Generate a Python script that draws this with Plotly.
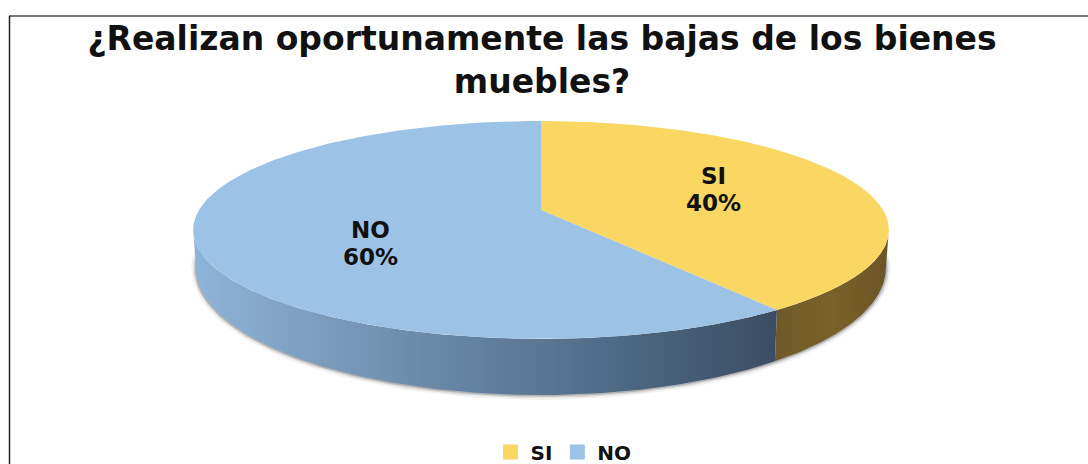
import numpy as np
import plotly.graph_objects as go

# Survey answers
categories = ["SI", "NO"]
values = [40, 60]
title_lines = ["¿Realizan oportunamente las bajas de los bienes", "muebles?"]

# Pie styling
TOP_COLORS = {"SI": "#FAD663", "NO": "#9CC2E5"}
WALL_SCALES = {
    "SI": [[0, "#6E5A2A"], [0.5, "#7A6228"], [1, "#6A5424"]],
    "NO": [[0, "#8FB4D8"], [0.35, "#6F8FAE"], [0.7, "#506C88"], [1, "#3A4D62"]],
}
LABEL_POS = {"SI": (713, 176), "NO": (370, 230)}
LABEL_LINE_GAP = 27
FONT = "DejaVu Sans"

# Tilted-disc projection: pivot, horizontal and vertical scale, perspective strength
K = 0.183
TOP_RIM = (541, 210, 342, 105.3)
BOTTOM_RIM = (541, 244.8, 339, 122.7)


def project(theta_deg, rim, radius=1.0):
    """Map clockwise-from-north angles on the disc to page coordinates."""
    cx, cy, a, b = rim
    t = np.radians(theta_deg)
    u, v = radius * np.sin(t), -radius * np.cos(t)
    w = 1 - K * v
    return cx + a * u / w, cy + b * v / w


total = sum(values)
spans = []
start = 0.0
for value in values:
    spans.append((start, start + 360 * value / total))
    start += 360 * value / total

# The disc edge is only visible between its two horizontal extremes
edge_right = np.degrees(np.arccos(-K))
edge_left = 360 - edge_right

fig = go.Figure()

# Soft contact shadow below the disc wall
low_t = np.linspace(edge_right - 8, edge_left + 8, 240)
low_x, low_y = project(low_t, BOTTOM_RIM)
for width, alpha in [(10, 0.06), (6, 0.12), (3, 0.22)]:
    fig.add_trace(go.Scatter(
        x=low_x, y=low_y, mode="lines", hoverinfo="skip", showlegend=False,
        line=dict(color=f"rgba(40,40,40,{alpha})", width=width),
    ))

# Side walls, each limited to the visible arc of its slice
for cat, (a0, a1) in zip(categories, spans):
    lo = max(a0, edge_right) if a0 < 180 else a0
    hi = min(a1, edge_left)
    t = np.linspace(lo, hi, 160)
    tx, ty = project(t, TOP_RIM)
    bx, by = project(t[::-1], BOTTOM_RIM)
    xs = np.concatenate([tx, bx, tx[:1]])
    ys = np.concatenate([ty, by, ty[:1]])
    fig.add_trace(go.Scatter(
        x=xs, y=ys, mode="lines", line=dict(width=0), hoverinfo="skip", showlegend=False,
        fill="toself",
        fillgradient=dict(type="horizontal", colorscale=WALL_SCALES[cat],
                          start=float(xs.min()), stop=float(xs.max())),
    ))

# Top faces
for cat, (a0, a1) in zip(categories, spans):
    t = np.linspace(a0, a1, 240)
    x, y = project(t, TOP_RIM)
    px, py = project(0.0, TOP_RIM, radius=0.0)
    fig.add_trace(go.Scatter(
        x=np.concatenate([[px], x, [px]]), y=np.concatenate([[py], y, [py]]),
        mode="lines", fill="toself", fillcolor=TOP_COLORS[cat],
        line=dict(width=0, color=TOP_COLORS[cat]), name=cat, showlegend=False,
    ))

# Legend entries
for cat in categories:
    fig.add_trace(go.Scatter(
        x=[None], y=[None], mode="markers", name=cat,
        marker=dict(symbol="square", size=15, color=TOP_COLORS[cat]),
    ))

# Slice labels: category name with its share underneath
annotations = []
for cat, value in zip(categories, values):
    lx, ly = LABEL_POS[cat]
    for offset, text in [(0, cat), (LABEL_LINE_GAP, f"{value}%")]:
        annotations.append(dict(
            x=lx, y=ly + offset, xref="x", yref="y", showarrow=False,
            text=f"<b>{text}</b>", font=dict(family=FONT, size=23, color="#111111"),
        ))

fig.update_layout(
    width=1088, height=464, autosize=False,
    margin=dict(l=0, r=0, t=0, b=0, autoexpand=False),
    paper_bgcolor="white", plot_bgcolor="white",
    title=dict(text="<b>" + "<br>".join(title_lines) + "</b>",
               x=542 / 1088, xanchor="center", y=1 - 50 / 464, yanchor="top",
               font=dict(family=FONT, size=33, color="#111111")),
    xaxis=dict(range=[0, 1088], visible=False, fixedrange=True),
    yaxis=dict(range=[464, 0], visible=False, fixedrange=True),
    legend=dict(orientation="h", x=563.5 / 1088, y=1 - 452 / 464, xanchor="center", yanchor="middle",
                font=dict(family=FONT, size=20, color="#111111", weight="bold"),
                itemwidth=30, bgcolor="rgba(0,0,0,0)"),
    annotations=annotations,
    shapes=[
        dict(type="line", xref="x", yref="y", x0=9, x1=1088, y0=16, y1=16,
             line=dict(color="#777777", width=2)),
        dict(type="line", xref="x", yref="y", x0=9.5, x1=9.5, y0=16, y1=464,
             line=dict(color="#222222", width=1.5)),
    ],
)

fig.write_html("out.html")
